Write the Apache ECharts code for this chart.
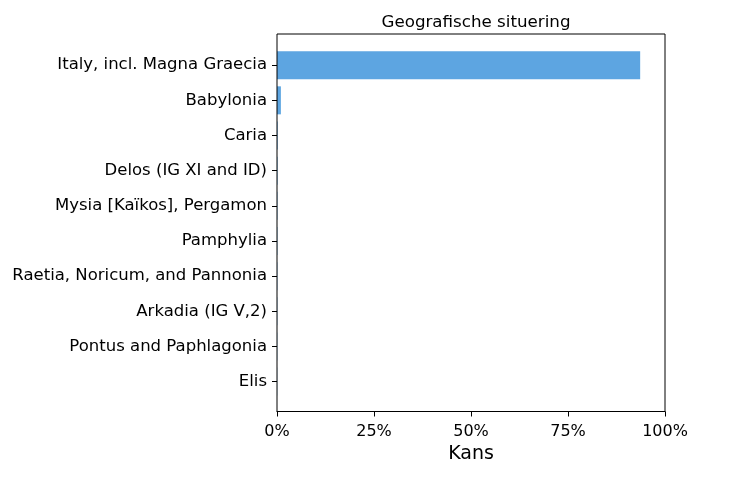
<!DOCTYPE html>
<html><head><meta charset="utf-8">
<script src="https://cdn.jsdelivr.net/npm/echarts@6/dist/echarts.min.js"></script>
<style>html,body{margin:0;padding:0;background:#fff}#c{width:746px;height:478px}</style>
</head><body><div id="c"></div>
<script>
const categories = ["Italy, incl. Magna Graecia","Babylonia","Caria","Delos (IG XI and ID)","Mysia [Kaïkos], Pergamon","Pamphylia","Raetia, Noricum, and Pannonia","Arkadia (IG V,2)","Pontus and Paphlagonia","Elis"];
const values = [93.6, 1.0, 0.15, 0.12, 0.1, 0.09, 0.08, 0.07, 0.06, 0.05];
const xTicks = [0, 25, 50, 75, 100];
const font = "DejaVu Sans";
const chart = echarts.init(document.getElementById('c'));
chart.setOption({
  animation: false,
  title: {text: "Geografische situering", left: 471, top: 9, textAlign: 'center',
    textStyle: {fontFamily: font, fontSize: 16.7, fontWeight: 'normal', color: '#000'}},
  grid: [
    {left: 277, right: 81, top: 47.6, bottom: 78.8, containLabel: false},
    {left: 277, right: 81, top: 34, bottom: 66.5, show: true, borderColor: '#000', borderWidth: 1, backgroundColor: 'transparent', z: 5}
  ],
  xAxis: [
    {gridIndex: 0, type: 'value', min: 0, max: 100, show: false},
    {gridIndex: 1, type: 'value', min: 0, max: 100, interval: 25,
      name: 'Kans', nameLocation: 'middle', nameGap: 33,
      nameTextStyle: {fontFamily: font, fontSize: 19, color: '#000'},
      axisLine: {show: true, lineStyle: {color: '#000'}},
      axisTick: {show: true, length: 5, lineStyle: {color: '#000'}},
      axisLabel: {fontFamily: font, fontSize: 16, color: '#000', margin: 12, formatter: v => v + '%'},
      splitLine: {show: false}}
  ],
  yAxis: [
    {gridIndex: 0, type: 'category', data: categories, inverse: true,
      axisLine: {show: false},
      axisTick: {show: true, alignWithLabel: true, length: 5, lineStyle: {color: '#000'}},
      axisLabel: {fontFamily: font, fontSize: 16.5, color: '#000', margin: 10, padding: [5, 0, 0, 0]},
      splitLine: {show: false}},
    {gridIndex: 1, type: 'value', show: false, min: 0, max: 1}
  ],
  series: [{type: 'bar', xAxisIndex: 0, yAxisIndex: 0, data: values, barWidth: 28,
    itemStyle: {color: '#5da5e1'}}]
});
</script></body></html>
